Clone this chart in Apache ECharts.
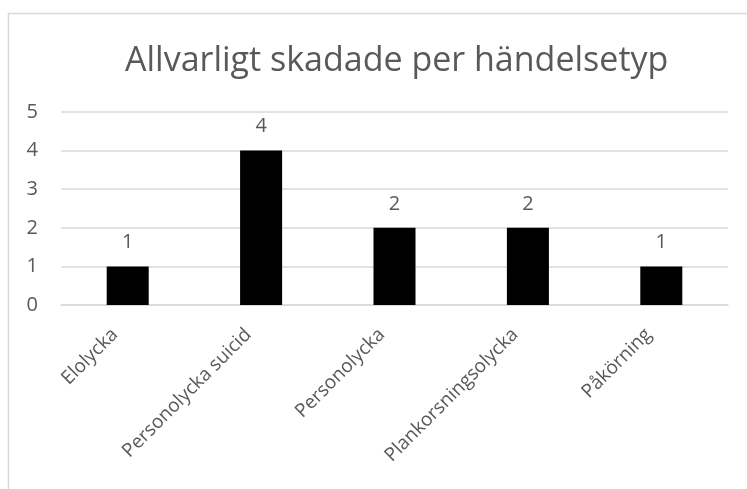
<!DOCTYPE html>
<html>
<head>
<meta charset="utf-8">
<script src="https://cdn.jsdelivr.net/npm/echarts@6/dist/echarts.min.js"></script>
<style>
  html, body { margin: 0; padding: 0; background: #fff; }
  #chart { width: 747px; height: 489px; }
</style>
</head>
<body>
<div id="chart"></div>
<script>
const categories = ['Elolycka', 'Personolycka suicid', 'Personolycka', 'Plankorsningsolycka', 'Påkörning'];
const values = [1, 4, 2, 2, 1];
const yTicks = [0, 1, 2, 3, 4, 5];

const chart = echarts.init(document.getElementById('chart'));
const textColor = '#595959';
const font = '"Open Sans", sans-serif';

const option = {
    backgroundColor: '#fff',
    animation: false,
    title: {
        text: 'Allvarligt skadade per händelsetyp',
        left: 120,
        top: 39,
        textStyle: { color: textColor, fontFamily: font, fontSize: 34, fontWeight: 'normal' }
    },
    graphic: [{
        type: 'rect',
        shape: { x: 8.5, y: 13.5, width: 800, height: 600 },
        style: { fill: null, stroke: '#d9d9d9', lineWidth: 1.5 },
        silent: true
    }],
    grid: { left: 61, right: 19, top: 112, bottom: 184 },
    xAxis: {
        type: 'category',
        data: categories,
        axisLine: { lineStyle: { color: '#d9d9d9', width: 1.5 } },
        axisTick: { show: false },
        axisLabel: { rotate: 45, color: textColor, fontFamily: font, fontSize: 19, margin: 14, padding: [0, 18, 0, 0] }
    },
    yAxis: {
        type: 'value',
        min: yTicks[0],
        max: yTicks[yTicks.length - 1],
        interval: 1,
        axisLine: { show: false },
        axisTick: { show: false },
        axisLabel: { color: textColor, fontFamily: font, fontSize: 20, margin: 23 },
        splitLine: { lineStyle: { color: '#d9d9d9', width: 1.5 } }
    },
    series: [{
        type: 'bar',
        data: values,
        barWidth: '31.5%',
        itemStyle: { color: '#000' },
        label: { show: true, position: 'top', distance: 14, color: textColor, fontFamily: font, fontSize: 20 }
    }]
};
chart.setOption(option);
</script>
</body>
</html>
